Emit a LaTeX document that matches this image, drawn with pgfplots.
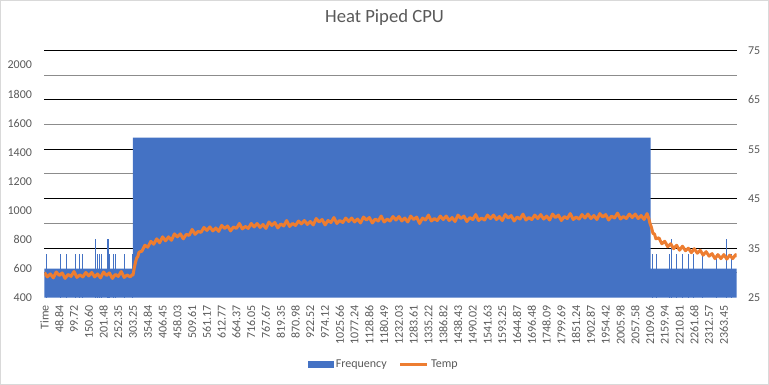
\documentclass[border=0pt]{standalone}
\usepackage{fontspec}
\setmainfont{Carlito}
\usepackage{pgfplots}
\pgfplotsset{compat=1.18}
\definecolor{fblue}{HTML}{4472C4}
\definecolor{torange}{HTML}{ED7D31}
\definecolor{txtgray}{HTML}{595959}
\definecolor{gridgray}{HTML}{8C8C8C}
\definecolor{bordergray}{HTML}{D9D9D9}
\pgfplotsset{
  base/.style={
    at={(33.225pt,65.475pt)}, anchor=south west,
    scale only axis, width=519.3pt, height=185.55pt,
    xmin=-0.5, xmax=2343.5,
    tick style={draw=none},
    major tick length=0pt,
    ticklabel style={font=\fontsize{9}{10}\selectfont, text=txtgray},
    axis line style={draw=none},
    /pgf/number format/assume math mode=true,
    /pgf/number format/1000 sep={},
  }}
\begin{document}
\begin{tikzpicture}
\useasboundingbox (0,0) rectangle (576.75pt,288.75pt);
\draw[bordergray, line width=0.75pt] (0.375pt,0.375pt) rectangle (576.375pt,288.375pt);
\node[font=\fontsize{14}{16}\selectfont, text=txtgray] at (288.4pt,275.25pt) {Heat Piped CPU};

% grid (right-axis scale)
\begin{axis}[base, ymin=25, ymax=75,
  ytick={35,45,55,65,75}, minor ytick={30,40,50,60,70},
  ymajorgrids, yminorgrids,
  major grid style={black, line width=0.75pt},
  minor grid style={gridgray, line width=0.75pt},
  xtick=\empty, yticklabels={}]
\end{axis}

% Frequency (left axis)
\begin{axis}[base, ymin=400, ymax=2100,
  ytick={400,600,800,1000,1200,1400,1600,1800,2000},
  yticklabels={400,600,800,1000,1200,1400,1600,1800,2000},
  yticklabel style={anchor=east, xshift=-5.7pt},
  xtick={0,50,...,2300},
  xticklabels={Time,48.84,99.72,150.60,201.48,252.35,303.25,354.84,406.45,458.03,509.61,561.17,612.77,664.37,716.05,767.67,819.35,870.98,922.52,974.12,1025.66,1077.24,1128.86,1180.49,1232.03,1283.61,1335.22,1386.82,1438.43,1490.02,1541.63,1593.25,1644.87,1696.48,1748.09,1799.69,1851.24,1902.87,1954.42,2005.98,2057.58,2109.06,2159.94,2210.81,2261.68,2312.57,2363.45},
  xticklabel style={rotate=90, anchor=east, inner sep=0pt, inner xsep=5.5pt},
  ]
\addplot[fill=fblue, draw=none] coordinates {
  (-0.5,600) (299.5,600) (299.5,1500) (2052.5,1500) (2052.5,600) (2343.5,600)
} \closedcycle;
\addplot[ycomb, draw=fblue, line width=0.75pt, mark=none] coordinates {
  (6,700) (54,700) (74,700) (105,700) (118,700) (128,700) (172,800) (179,700)
  (186,700) (193,700) (213,800) (214,800) (215,800) (216,800) (217,800) (220,700)
  (235,700) (240,700) (270,700) (298,700)
  (2058,700) (2071,700) (2117,700) (2122,800) (2139,700) (2160,700) (2180,700)
  (2196,700) (2228,700) (2276,700) (2310,800) (2325,700)
};
\end{axis}

% Temp (right axis)
\begin{axis}[base, ymin=25, ymax=75,
  axis y line*=right,
  ytick={25,35,45,55,65,75},
  yticklabels={25,35,45,55,65,75},
  yticklabel style={anchor=west, xshift=5pt},
  xtick=\empty,
  legend style={at={(0.4906,-0.269)}, anchor=center, draw=none, fill=none,
    legend columns=2, font=\fontsize{9}{10}\selectfont, text=txtgray,
    /tikz/every even column/.append style={column sep=7pt}},
  ]
\addlegendimage{legend image code/.code={\fill[fblue] (0pt,-2.6pt) rectangle (18.75pt,2.6pt);}}
\addlegendentry{Frequency}
\addplot[torange, line width=2.25pt, line join=round, mark=none,
  legend image code/.code={\draw[torange, line width=2.25pt] (0pt,0pt) -- (20pt,0pt);}]
coordinates {
(0,30.1) (10,29.2) (20,29.8) (30,29.0) (40,30.2) (50,29.5) (60,30.0) (70,28.9)
(80,29.7) (90,29.3) (100,30.3) (110,29.1) (120,29.6) (130,29.2) (140,30.1) (150,29.4)
(160,30.1) (170,29.2) (180,29.8) (190,29.0) (200,30.2) (210,29.5) (220,30.0) (230,28.9)
(240,29.7) (250,29.3) (260,30.3) (270,29.1) (280,29.6) (290,29.2) (298,29.7) (300,29.6)
(304,31.0) (308,32.1) (312,33.0) (316,33.3) (320,34.2) (330,34.4) (340,35.6) (350,35.2)
(360,36.4) (370,35.8) (380,36.9) (390,36.1)
(400,37.3) (410,36.5) (420,37.3) (430,36.6) (440,37.9) (450,37.3) (460,37.9) (470,36.9)
(480,37.8) (490,37.6) (500,38.8) (510,37.8) (520,38.4) (530,38.2) (540,39.2) (550,38.6)
(560,39.3) (570,38.5) (580,39.1) (590,38.4) (600,39.6) (610,39.0) (620,39.5) (630,38.5)
(640,39.3) (650,39.0) (660,40.0) (670,38.9) (680,39.4) (690,39.0) (700,40.0) (710,39.3)
(720,40.0) (730,39.2) (740,39.8) (750,39.0) (760,40.3) (770,39.6) (780,40.2) (790,39.1)
(800,39.9) (810,39.5) (820,40.6) (830,39.4) (840,40.0) (850,39.6) (860,40.5) (870,39.9)
(880,40.6) (890,39.8) (900,40.4) (910,39.7) (920,41.0) (930,40.3) (940,40.8) (950,39.7)
(960,40.6) (970,40.2) (980,41.2) (990,40.0) (1000,40.6) (1010,40.2) (1020,41.1) (1030,40.4)
(1040,41.1) (1050,40.3) (1060,40.9) (1070,40.1) (1080,41.3) (1090,40.7) (1100,41.2) (1110,40.1)
(1120,40.9) (1130,40.5) (1140,41.5) (1150,40.3) (1160,40.9) (1170,40.5) (1180,41.4) (1190,40.7)
(1200,41.4) (1210,40.5) (1220,41.1) (1230,40.3) (1240,41.5) (1250,40.8) (1260,41.3) (1270,40.0)
(1280,41.1) (1290,40.7) (1300,41.7) (1310,40.5) (1320,41.0) (1330,40.6) (1340,41.5) (1350,40.8)
(1360,41.5) (1370,40.6) (1380,41.2) (1390,40.4) (1400,41.7) (1410,41.0) (1420,41.5) (1430,40.4)
(1440,41.2) (1450,40.8) (1460,41.8) (1470,40.6) (1480,41.1) (1490,40.7) (1500,41.7) (1510,41.0)
(1520,41.7) (1530,40.8) (1540,41.4) (1550,40.6) (1560,41.8) (1570,41.1) (1580,41.6) (1590,40.5)
(1600,41.3) (1610,40.9) (1620,41.9) (1630,40.7) (1640,41.2) (1650,40.8) (1660,41.7) (1670,41.0)
(1680,41.8) (1690,40.9) (1700,41.5) (1710,40.7) (1720,41.9) (1730,41.2) (1740,41.7) (1750,40.6)
(1760,41.4) (1770,41.0) (1780,42.0) (1790,40.8) (1800,41.3) (1810,40.9) (1820,41.8) (1830,41.1)
(1840,41.9) (1850,41.0) (1860,41.6) (1870,40.8) (1880,42.0) (1890,41.3) (1900,41.8) (1910,40.7)
(1920,41.5) (1930,41.1) (1940,42.1) (1950,40.9) (1960,41.4) (1970,41.0) (1980,41.9) (1990,41.2)
(2000,41.9) (2010,41.0) (2020,41.6) (2030,40.8) (2040,42.0)
(2046,41.0) (2050,40.0) (2055,39.2) (2060,38.0) (2065,37.9) (2070,36.9) (2080,37.1) (2090,35.9)
(2100,36.4) (2110,35.3) (2120,35.9) (2130,34.9) (2140,35.6) (2150,34.6) (2160,35.4) (2170,34.5)
(2180,35.0) (2190,34.1) (2200,34.9) (2210,34.0) (2220,34.6) (2230,33.6) (2240,34.3) (2250,33.4)
(2260,33.9) (2270,32.9) (2280,33.7) (2290,32.9) (2300,33.7) (2310,32.8) (2320,33.6) (2330,32.9)
(2340,33.7) (2343,33.2)
};
\addlegendentry{Temp}
\end{axis}
\end{tikzpicture}
\end{document}
